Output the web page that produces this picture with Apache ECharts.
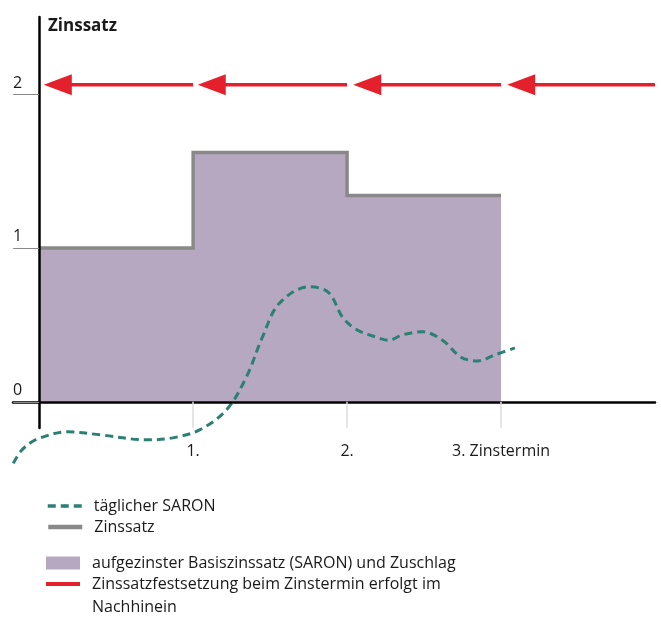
<!DOCTYPE html>
<html>
<head>
<meta charset="utf-8">
<script src="https://cdn.jsdelivr.net/npm/echarts@6/dist/echarts.min.js"></script>
<style>
html,body{margin:0;padding:0;background:#fff;}
#c{width:661px;height:617px;}
</style>
</head>
<body>
<div id="c"></div>
<script>
// ---- data ----
const periodX = [0, 1, 2, 3];
const rates = [1.0, 1.62, 1.34, 1.34];
const saronX = [-0.168,-0.123,-0.06,0.006,0.181,0.395,0.699,0.867,1.042,1.217,1.346,1.45,1.56,1.754,1.88,1.97,2.06,2.19,2.27,2.36,2.49,2.62,2.74,2.85,2.96,3.09];
const saronY = [-0.40,-0.325,-0.268,-0.234,-0.195,-0.214,-0.247,-0.234,-0.182,-0.052,0.162,0.42,0.64,0.747,0.71,0.55,0.47,0.42,0.40,0.435,0.455,0.40,0.29,0.266,0.305,0.35];
const arrowStart = [1, 2, 3, 4];
const arrowTip = [0.03, 1.03, 2.04, 3.04];
const arrowLevel = 2.06;
const xTickValues = [1, 2, 3];
const xTickLabels = ['1.', '2.', '3. Zinstermin'];
const yTickValues = [0, 1, 2];
const yTickLabels = ['0', '1', '2'];
const names = {
  saron: 'täglicher SARON',
  rate: 'Zinssatz',
  area: 'aufgezinster Basiszinssatz (SARON) und Zuschlag',
  fix: 'Zinssatzfestsetzung beim Zinstermin erfolgt im\nNachhinein'
};

const FONT = '"Open Sans", "Noto Sans", sans-serif';
const RED = '#e4202c';
const GRAY = '#898989';
const PURPLE = '#b6a8c1';
const TEAL = '#2b8073';
const TXT = '#1a1a1a';

const stepData = periodX.map((x, i) => [x, rates[i]]);
const saronData = saronX.map((x, i) => [x, saronY[i]]);
const arrowData = arrowStart.map((s, i) => [s, arrowTip[i], arrowLevel]);

function legendRow(top, name, h, extra) {
  return Object.assign({
    orient: 'vertical', left: 46, top: top, padding: 0,
    itemWidth: 34, itemHeight: h, itemGap: 0,
    selectedMode: false,
    data: [name],
    textStyle: { fontFamily: FONT, fontSize: 16, color: TXT, lineHeight: 21, padding: [0, 0, 0, 7] }
  }, extra || {});
}

const chart = echarts.init(document.getElementById('c'));
chart.setOption({
  animation: false,
  title: {
    text: 'Zinssatz', left: 48, top: 18, padding: 0,
    textStyle: { fontFamily: FONT, fontSize: 17, fontWeight: 'bold', color: TXT }
  },
  legend: [
    legendRow(495.5, names.saron, 4, { lineStyle: { width: 3.5 } }),
    legendRow(516.5, names.rate, 4, { lineStyle: { width: 4.5 } }),
    legendRow(552.5, names.area, 13, { data: [{ name: names.area, icon: 'rect' }] }),
    legendRow(549.5, names.fix, 4, {
      data: [{ name: names.fix, icon: 'rect' }],
      formatter: function (n) { return '\n' + n; },
      textStyle: { fontFamily: FONT, fontSize: 16, color: TXT, lineHeight: 23, padding: [0, 0, 0, 7] }
    })
  ],
  grid: { left: 13, right: 6, top: 17, bottom: 189, outerBoundsMode: 'none' },
  xAxis: {
    type: 'value', min: -0.17, max: 4, z: 10,
    splitLine: { show: false },
    axisLine: { show: true, onZero: true, lineStyle: { color: '#000', width: 2.5 } },
    axisTick: { show: true, customValues: xTickValues, length: 26, lineStyle: { color: '#dddddd', width: 1.5 } },
    axisLabel: {
      customValues: xTickValues, margin: 15,
      formatter: v => xTickLabels[xTickValues.indexOf(v)],
      fontFamily: FONT, fontSize: 16, color: TXT
    }
  },
  yAxis: {
    type: 'value', min: -0.17, max: 2.5, z: 10,
    splitLine: { show: false },
    axisLine: { show: true, onZero: true, lineStyle: { color: '#000', width: 2.5 } },
    axisTick: { show: true, customValues: yTickValues, length: 26, lineStyle: { color: '#888', width: 1 } },
    axisLabel: {
      customValues: yTickValues, margin: 0, align: 'left', verticalAlign: 'bottom',
      padding: [0, 0, 3, 0],
      formatter: v => yTickLabels[yTickValues.indexOf(v)],
      fontFamily: FONT, fontSize: 16, color: TXT
    }
  },
  series: [
    {
      name: names.area, type: 'line', step: 'end', data: stepData,
      symbol: 'none', color: PURPLE, z: 1,
      lineStyle: { width: 0 },
      areaStyle: { color: PURPLE, opacity: 1, origin: 0 }
    },
    {
      name: names.rate, type: 'line', step: 'end', data: stepData,
      symbol: 'none', color: GRAY, z: 2,
      lineStyle: { color: GRAY, width: 3.5, join: 'miter', cap: 'butt' }
    },
    {
      name: names.saron, type: 'line', smooth: 0.35, data: saronData,
      symbol: 'none', color: TEAL, z: 3, clip: false,
      lineStyle: { color: TEAL, width: 3, type: [8, 5] }
    },
    {
      name: names.fix, type: 'custom', color: RED, z: 4, clip: false,
      data: arrowData,
      encode: { x: [0, 1], y: 2 },
      renderItem: function (params, api) {
        const s = api.coord([api.value(0), api.value(2)]);
        const e = api.coord([api.value(1), api.value(2)]);
        return {
          type: 'group',
          children: [
            { type: 'line', shape: { x1: s[0], y1: s[1], x2: e[0] + 24, y2: e[1] },
              style: { stroke: RED, lineWidth: 3.5 } },
            { type: 'polygon', shape: { points: [[e[0], e[1]], [e[0] + 28, e[1] - 10.5], [e[0] + 28, e[1] + 10.5]] },
              style: { fill: RED } }
          ]
        };
      }
    }
  ]
});
</script>
</body>
</html>
